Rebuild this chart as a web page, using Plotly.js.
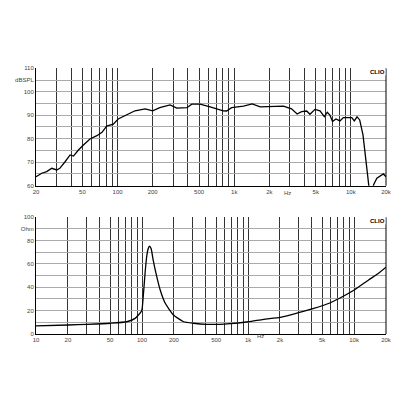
<!DOCTYPE html>
<html><head><meta charset="utf-8">
<script src="https://cdn.plot.ly/plotly-3.0.1.min.js"></script>
<style>html,body{margin:0;padding:0;background:#fff}#c{width:416px;height:416px}</style>
</head><body><div id="c"></div>
<script>
const splFreq = [20,22.4,24.7,27.3,30.1,32,35.5,39.2,41.9,46.2,51,58,66.5,73.6,80.7,92,101.3,119.9,141,172.5,200,230,282,322,393,433,510,622,760,805,860,950,1200,1426,1670,2032,2640,3100,3460,3780,4180,4460,4920,5440,5920,6280,6610,6960,7440,8060,8610,10180,10700,11290,11900,12700,13300,13760,14400,15000,15700,16700,19000,20000];
const splDb = [63.8,65.3,66,67.4,66.7,67.4,70.2,73.1,72.6,75.2,77.3,79.9,81.3,82.7,85.4,86.2,88.4,90.1,91.9,92.7,91.9,93.2,94.4,93,93.2,94.7,94.7,93.6,92.2,91.9,91.8,93.2,93.9,94.8,93.6,93.6,93.9,92.7,90.5,91.5,91.8,90.4,92.5,91.9,89.4,91.3,90.1,87.3,88.4,87.6,89,89,87.6,89.3,88,81.6,73.1,66,58,56,60.5,63.2,65,63.8];
const impFreq = [10,20.2,30.1,50,71.9,86,99.3,102,106.8,110.5,114.3,117.6,122,127,137.7,148.4,165.6,198,246.8,305,410,548,634,1010,1400,2020,2980,4170,5560,7440,10030,13700,17000,20000];
const impOhm = [6.9,7.7,8.3,9.2,10.5,13.4,20,29,52,66,73,75.2,73,64,49.1,37.7,26.3,16.3,10.5,9.2,8.3,8.3,8.6,10.5,12.6,14.3,18.3,22,25.7,31.1,37.7,46.3,52,57.2];
const gridFreqTop = [20,30,40,50,60,70,80,90,100,200,300,400,500,600,700,800,900,1000,2000,3000,4000,5000,6000,7000,8000,9000,10000,20000];
const labTop = {20:'20',50:'50',100:'100',200:'200',500:'500',1000:'1k',2000:'2k',5000:'5k',10000:'10k',20000:'20k'};
const gridFreqBot = [10,20,30,40,50,60,70,80,90,100,200,300,400,500,600,700,800,900,1000,2000,3000,4000,5000,6000,7000,8000,9000,10000,20000];
const labBot = {10:'10',20:'20',50:'50',100:'100',200:'200',500:'500',1000:'1k',2000:'2k',5000:'5k',10000:'10k',20000:'20k'};
const dbTicks = [60,65,70,75,80,85,90,95,100,105,110];
const dbLabels = ['60','','70','','80','','90','','100','dBSPL','110'];
const ohmTicks = [0,10,20,30,40,50,60,70,80,90,100];
const ohmLabels = ['0','','20','','40','','60','','80','Ohm','100'];

const tf = {family:'Liberation Sans, Arial, sans-serif', size:6, color:'#444'};
const xcommon = {type:'log', showgrid:true, gridcolor:'#333', gridwidth:1, showline:true, linecolor:'#000', linewidth:1, mirror:false, ticks:'', tickfont:tf, zeroline:false, tickmode:'array', ticklabelstandoff:0};
const ycommon = {showgrid:true, gridcolor:'#aaa', gridwidth:1, showline:true, linecolor:'#000', linewidth:1, ticks:'', tickfont:tf, zeroline:false, tickmode:'array', automargin:false};

const data = [
 {x:splFreq, y:splDb, xaxis:'x', yaxis:'y', mode:'lines', line:{color:'#000', width:1.3}, hoverinfo:'skip'},
 {x:impFreq, y:impOhm, xaxis:'x2', yaxis:'y2', mode:'lines', line:{color:'#000', width:1.3, shape:'spline', smoothing:0.5}, hoverinfo:'skip'}
];
const layout = {
 width:416, height:416, showlegend:false,
 paper_bgcolor:'#fff', plot_bgcolor:'#fff',
 margin:{l:36, r:30, t:68, b:82},
 xaxis: Object.assign({}, xcommon, {domain:[0,1], anchor:'y', range:[Math.log10(20),Math.log10(20000)], tickvals:gridFreqTop, ticktext:gridFreqTop.map(v=>labTop[v]||'')}),
 yaxis: Object.assign({}, ycommon, {domain:[0.5575,0.999], anchor:'x', range:[60,110], tickvals:dbTicks, ticktext:dbLabels}),
 xaxis2: Object.assign({}, xcommon, {domain:[0,1], anchor:'y2', range:[1,Math.log10(20000)], tickvals:gridFreqBot, ticktext:gridFreqBot.map(v=>labBot[v]||'')}),
 yaxis2: Object.assign({}, ycommon, {domain:[0,0.4387], anchor:'x2', range:[0,100], tickvals:ohmTicks, ticktext:ohmLabels}),
 shapes:[
  {type:'line', xref:'x domain', yref:'y domain', x0:1, x1:1, y0:0, y1:1, line:{color:'#000', width:1}},
  {type:'line', xref:'x2 domain', yref:'y2 domain', x0:1, x1:1, y0:0, y1:1, line:{color:'#000', width:1}}
 ],
 annotations:[
  {xref:'x', yref:'paper', x:Math.log10(2858), y:0.5575, yshift:-7, text:'Hz', showarrow:false, font:tf},
  {xref:'x2', yref:'paper', x:Math.log10(1300), y:0, yshift:-7, text:'Hz', showarrow:false, font:tf},
  {xref:'x domain', yref:'y domain', x:1, y:1, xanchor:'right', yanchor:'top', text:'<span style="color:#000"><b>CLIO</b></span>', showarrow:false, font:{family:'Liberation Sans, Arial', size:6, color:'#000'}, bgcolor:'#fff', borderpad:0},
  {xref:'x2 domain', yref:'y2 domain', x:1, y:1, xanchor:'right', yanchor:'top', text:'<span style="color:#000"><b>CLIO</b></span>', showarrow:false, font:{family:'Liberation Sans, Arial', size:6, color:'#000'}, bgcolor:'#fff', borderpad:0}
 ]
};
Plotly.newPlot('c', data, layout, {staticPlot:true, displayModeBar:false});
</script></body></html>
